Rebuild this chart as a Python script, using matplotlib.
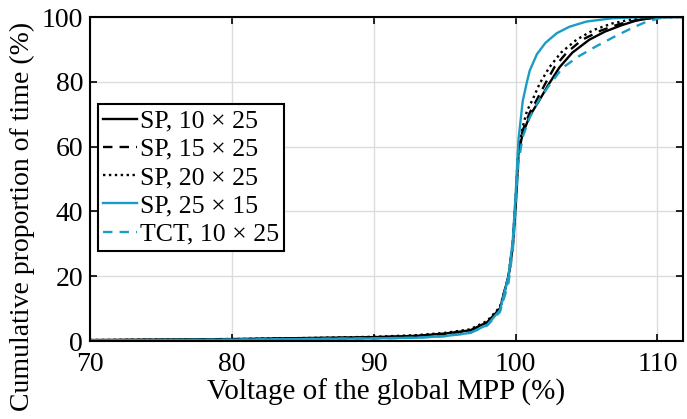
import numpy as np
import matplotlib
matplotlib.use('Agg')
from matplotlib import pyplot as plt

# values
x_sp10 = [70, 80, 85, 90, 93, 95, 96.8, 98, 98.9, 99.5, 99.8, 100, 100.2, 100.5, 101, 101.7,
          102.3, 103.1, 104, 105.2, 106.3, 107.5, 108.5, 109.6, 110.5, 112]
y_sp10 = [0.3, 0.6, 0.9, 1.2, 1.6, 2.3, 3.3, 5.8, 10, 20, 29, 42, 58, 64, 69.5, 74.5,
          79, 84.5, 89, 93, 95.5, 97.5, 98.9, 99.7, 100, 100]

x_sp15 = [70, 80, 85, 90, 93, 95, 96.8, 98, 98.9, 99.5, 99.8, 100, 100.2, 100.5, 101, 101.5,
          102.1, 102.75, 103.6, 104.7, 106, 107.3, 108.5, 109.6, 110.5, 112]
y_sp15 = [0.2, 0.5, 0.8, 1.1, 1.5, 2.1, 3.1, 5.6, 10, 20, 30, 43, 58, 65, 70.5, 74.5,
          79.5, 84.6, 89, 93, 95.8, 97.8, 99, 99.7, 100, 100]

x_sp20 = [70, 80, 85, 90, 93, 95, 96.8, 98, 98.9, 99.5, 99.8, 100, 100.2, 100.5, 100.8, 101.2,
          101.7, 102.4, 103.2, 104.3, 105.5, 106.8, 108.2, 109.5, 110.5, 112]
y_sp20 = [0.3, 0.6, 0.9, 1.3, 1.8, 2.5, 3.6, 6.2, 10.5, 20, 30, 44, 60, 66, 71, 74.5,
          79.5, 84.6, 89, 93, 96, 98, 99.3, 99.8, 100, 100]

x_sp25 = [70, 80, 85, 90, 93, 95, 96.8, 98, 98.9, 99.5, 99.8, 100, 100.2, 100.5, 100.8, 101.0,
          101.5, 102.1, 102.9, 103.8, 105, 106.8, 108.5, 110, 112]
y_sp25 = [0.2, 0.4, 0.6, 0.8, 1.0, 1.5, 2.5, 5.0, 9.5, 20, 31, 45, 62, 74, 80, 83.5,
          88.5, 92, 95, 97, 98.6, 99.6, 99.9, 100, 100]

x_tct = [70, 80, 85, 90, 93, 95, 96.8, 98, 98.9, 99.5, 99.8, 100, 100.2, 100.5, 101, 101.6,
         102.3, 103.3, 104.5, 105.7, 107, 108.2, 109.2, 110.1, 111, 112]
y_tct = [0.2, 0.4, 0.6, 0.8, 1.0, 1.5, 2.5, 4.8, 9.0, 18, 28, 40, 55, 63, 69, 74,
         78.5, 84.3, 88, 91, 94, 96.6, 98.5, 99.6, 100, 100]

labels = ['SP, 10 × 25', 'SP, 15 × 25', 'SP, 20 × 25', 'SP, 25 × 15', 'TCT, 10 × 25']
xticks = [70, 80, 90, 100, 110]
yticks = [0, 20, 40, 60, 80, 100]

blue = '#1a9cc4'

plt.rcParams['font.family'] = ['Liberation Serif', 'DejaVu Serif']
plt.rcParams['font.size'] = 20

fig = plt.figure(figsize=(6.87, 4.19), dpi=100)
ax = fig.add_axes([90 / 687, 1 - 341 / 419, (683 - 90) / 687, (341 - 17) / 419])

ax.plot(x_sp10, y_sp10, color='black', lw=1.7, ls='-', label=labels[0])
ax.plot(x_sp15, y_sp15, color='black', lw=1.7, ls=(0, (4, 3)), label=labels[1])
ax.plot(x_sp20, y_sp20, color='black', lw=1.7, ls=(0, (1, 1.5)), label=labels[2])
ax.plot(x_sp25, y_sp25, color=blue, lw=1.7, ls='-', label=labels[3])
ax.plot(x_tct, y_tct, color=blue, lw=1.7, ls=(0, (4, 3)), label=labels[4])

ax.set_xlim(70, 111.8)
ax.set_ylim(0, 100)
ax.set_xticks(xticks)
ax.set_yticks(yticks)
ax.grid(True, color='#dcdcdc', lw=1)
ax.set_axisbelow(True)
ax.tick_params(direction='in', top=True, right=True, length=5, width=1.2)
ax.tick_params(axis='x', pad=8)
ax.tick_params(axis='y', pad=5)
for s in ax.spines.values():
    s.set_linewidth(1.5)

ax.set_xlabel('Voltage of the global MPP (%)', fontsize=21)
ax.set_ylabel('Cumulative proportion of time (%)', fontsize=20)
ax.xaxis.set_label_coords(0.5, -0.115)
ax.yaxis.set_label_coords(-0.093, 0.385)

leg = ax.legend(loc='upper left', bbox_to_anchor=(0.013, 0.732), borderaxespad=0,
                fancybox=False, framealpha=1, edgecolor='black', fontsize=18.6,
                handlelength=1.3, handletextpad=0.1, labelspacing=0.2, borderpad=0.22)
leg.get_frame().set_linewidth(1.5)

plt.savefig('out.png', dpi=100)
